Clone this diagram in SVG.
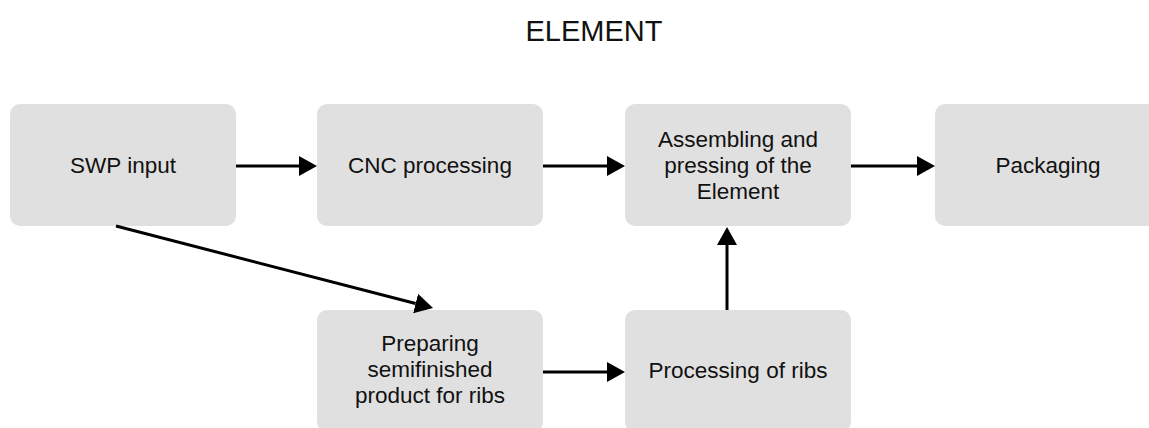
<svg xmlns="http://www.w3.org/2000/svg" width="1149" height="428" viewBox="0 0 1149 428">
<style>
.box{fill:#e0e0e0}
.t{font-family:"Liberation Sans",Arial,sans-serif;font-size:22.5px;fill:#111;text-anchor:middle}
.title{font-family:"Liberation Sans",Arial,sans-serif;font-size:29px;fill:#111;text-anchor:middle}
.c{stroke:#000;stroke-width:3;fill:none;marker-end:url(#ah)}
</style>
<defs>
<marker id="ah" markerUnits="userSpaceOnUse" markerWidth="18" markerHeight="20" refX="0" refY="10" orient="auto" viewBox="0 0 18 20">
<path d="M0,0 L18,10 L0,20 z" fill="#000"/>
</marker>
</defs>
<rect width="1149" height="428" fill="#fff"/>
<text class="title" x="594" y="41">ELEMENT</text>
<g id="swp"><rect class="box" x="10" y="104" width="226" height="122" rx="10"/><text class="t" x="123" y="173">SWP input</text></g>
<g id="cnc"><rect class="box" x="317" y="104" width="226" height="122" rx="10"/><text class="t" x="430" y="173">CNC processing</text></g>
<g id="assembling"><rect class="box" x="625" y="104" width="226" height="122" rx="10"/><text class="t"><tspan x="738" y="147">Assembling and</tspan><tspan x="738" y="173">pressing of the</tspan><tspan x="738" y="199">Element</tspan></text></g>
<g id="packaging"><rect class="box" x="935" y="104" width="226" height="122" rx="10"/><text class="t" x="1048" y="173">Packaging</text></g>
<g id="preparing"><rect class="box" x="317" y="310" width="226" height="122" rx="10"/><text class="t"><tspan x="430" y="351">Preparing</tspan><tspan x="430" y="377">semifinished</tspan><tspan x="430" y="403">product for ribs</tspan></text></g>
<g id="ribs"><rect class="box" x="625" y="310" width="226" height="122" rx="10"/><text class="t" x="738" y="378">Processing of ribs</text></g>
<g id="connectors">
<line class="c" x1="236" y1="166" x2="299" y2="166"/>
<line class="c" x1="543" y1="166" x2="607" y2="166"/>
<line class="c" x1="851" y1="166" x2="917" y2="166"/>
<line class="c" x1="543" y1="372" x2="607" y2="372"/>
<line class="c" x1="727" y1="310" x2="727" y2="245"/>
<line class="c" x1="116" y1="226" x2="415.6" y2="303.5"/>
</g>
</svg>
